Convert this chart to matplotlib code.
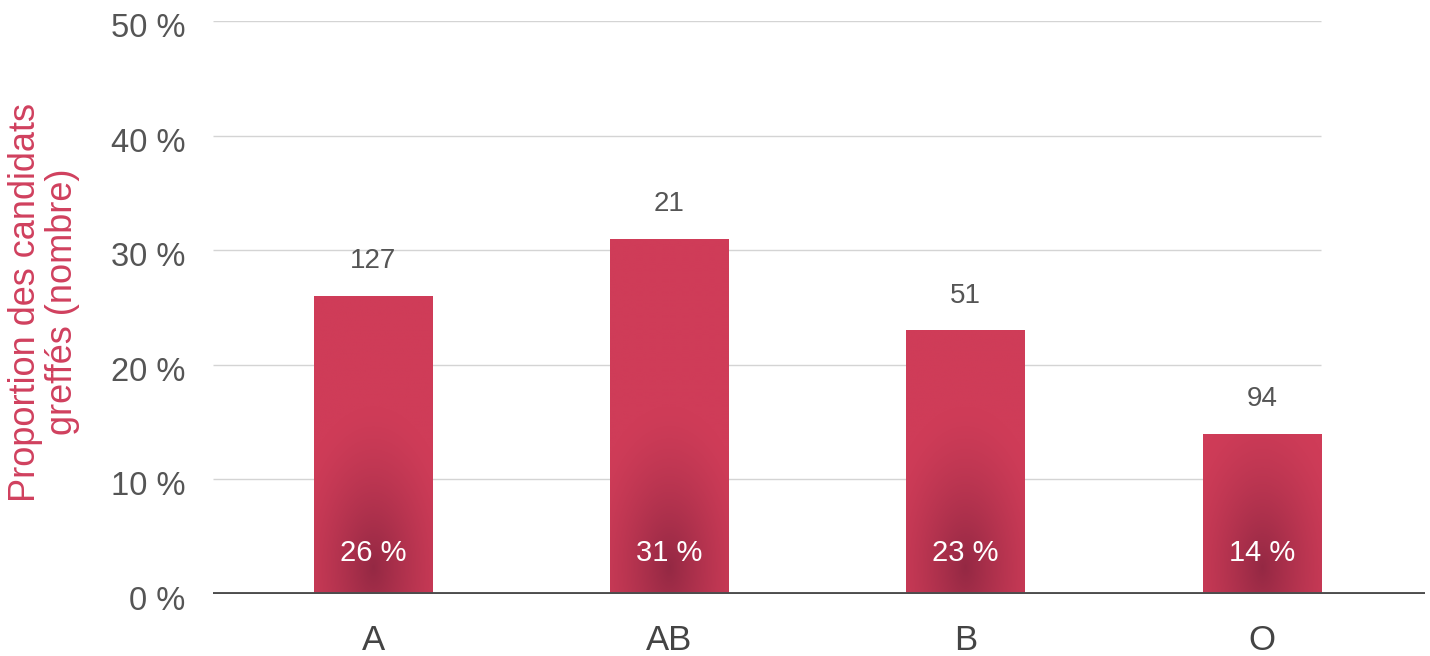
import matplotlib
matplotlib.use("Agg")
import matplotlib.pyplot as plt
import matplotlib.transforms as mtransforms
import numpy as np
from matplotlib.colors import to_rgb

plt.rcParams["font.family"] = ["Liberation Sans", "DejaVu Sans"]

# blood groups, share of grafted candidates (%) and head counts
groups = ["A", "AB", "B", "O"]
shares = [26, 31, 23, 14]
counts = [127, 21, 51, 94]
yticks = [0, 10, 20, 30, 40, 50]

bar_color = "#CF3C58"
glow_color = "#8A2540"
text_gray = "#555555"

fig = plt.figure(figsize=(14.30, 6.56), dpi=100)
ax = fig.add_axes([213 / 1430, 1 - 594 / 656, (1425 - 213) / 1430, (594 - 21) / 656])

x = np.arange(len(groups))
width = 0.4

# light horizontal grid, stopping short of the right end
for t in yticks[1:]:
    ax.hlines(t, -0.54, 3.2, color="#d4d4d4", lw=1, zorder=0)

bars = ax.bar(x, shares, width=width, color=bar_color, zorder=2)

# dark radial glow near the foot of each bar
base = np.array(to_rgb(bar_color))
dark = np.array(to_rgb(glow_color))
for rect, xc, h in zip(bars, x, shares):
    gx = np.linspace(xc - width / 2, xc + width / 2, 120)
    gy = np.linspace(0, h, 400)
    X, Y = np.meshgrid(gx, gy)
    d = np.sqrt(((X - xc) / (width * 0.7)) ** 2 + ((Y - 2.3) / 14.0) ** 2)
    a = np.clip(1 - d, 0, 1) ** 1.4 * 0.85
    img = base[None, None, :] * (1 - a[..., None]) + dark[None, None, :] * a[..., None]
    im = ax.imshow(img, extent=(xc - width / 2, xc + width / 2, 0, h), origin="lower",
                   aspect="auto", zorder=3, interpolation="bilinear")
    im.set_clip_path(rect)

ax.set_xlim(-0.54, 3.55)
ax.set_ylim(0, 50)

# counts above the bars, shares inside
for xc, h, n, s in zip(x, shares, counts, shares):
    ax.annotate(str(n), (xc, h), xytext=(0, 25), textcoords="offset points",
                ha="center", va="center", fontsize=20, color=text_gray, zorder=5)
    ax.text(xc, 3.6, f"{s} %", ha="center", va="center", fontsize=21,
            color="white", zorder=5)

ax.axhline(0, color="#4d4d4d", lw=2.8, zorder=4)

ax.set_xticks(x)
ax.set_xticklabels(groups, fontsize=25, color="#444444")
ax.set_yticks(yticks)
ax.set_yticklabels([f"{t} %" for t in yticks], fontsize=23.5, color=text_gray)
ax.tick_params(axis="both", length=0)
ax.tick_params(axis="x", pad=21.5)
ax.tick_params(axis="y", pad=20)
for sp in ax.spines.values():
    sp.set_visible(False)

# y labels sit a little below their grid lines
shift = mtransforms.ScaledTranslation(0, -4 / 100, fig.dpi_scale_trans)
for lbl in ax.get_yticklabels():
    lbl.set_transform(lbl.get_transform() + shift)

fig.text(44 / 1430, 1 - 302 / 656, "Proportion des candidats\ngreffés (nombre)",
         rotation=90, ha="center", va="center", multialignment="center",
         fontsize=26, color="#D0405E", linespacing=1.1)

fig.savefig("out.png", dpi=100)
